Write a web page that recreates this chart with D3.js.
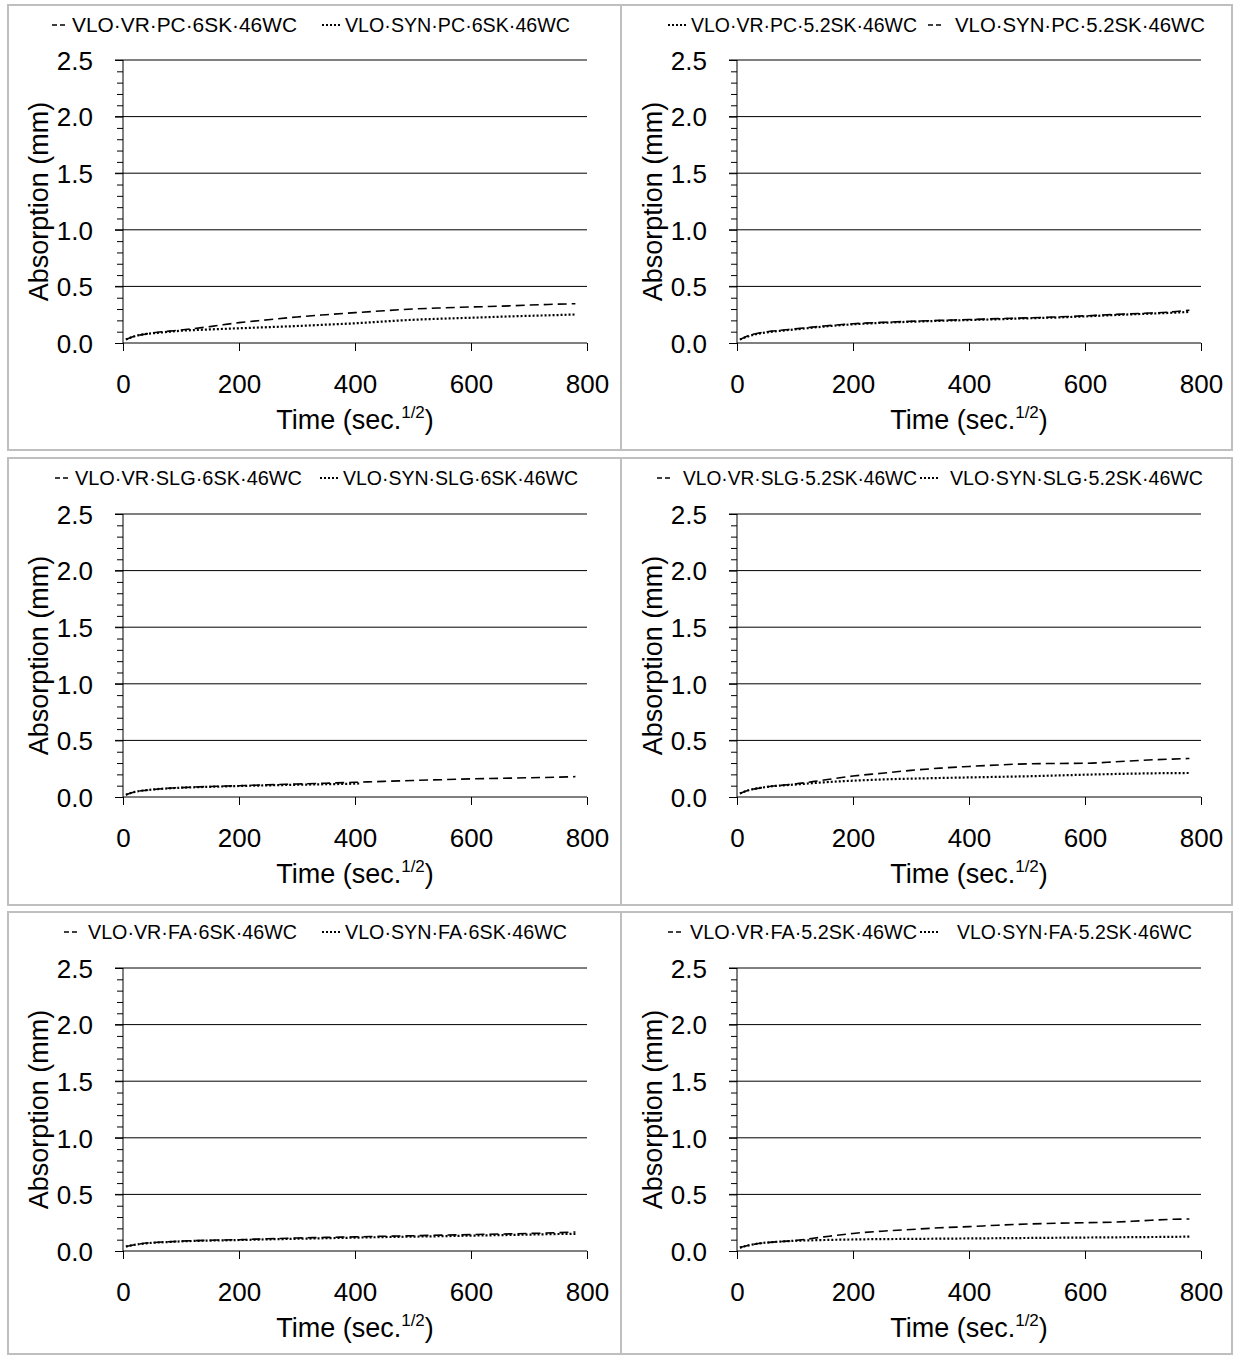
<!DOCTYPE html>
<html>
<head>
<meta charset="utf-8">
<script src="https://cdn.jsdelivr.net/npm/d3@7"></script>
<style>
  body { margin: 0; background: #fff; }
  svg { display: block; font-family: "Liberation Sans", Arial, sans-serif; }
</style>
</head>
<body>
<svg id="chart" width="1233" height="1355"></svg>
<script>
// time in sec^1/2
const times = [5, 20, 40, 60, 80, 100, 150, 200, 250, 300, 350, 400, 450, 500, 550, 600, 650, 700, 750, 780];
const timesShort = [5, 20, 40, 60, 80, 100, 150, 200, 250, 300, 350, 400, 410];

// absorption (mm)
const pc6VR   = [0.03, 0.06, 0.08, 0.095, 0.105, 0.115, 0.145, 0.18, 0.205, 0.23, 0.25, 0.268, 0.285, 0.30, 0.31, 0.318, 0.325, 0.335, 0.343, 0.347];
const pc6SYN  = [0.03, 0.06, 0.08, 0.09, 0.10, 0.108, 0.12, 0.13, 0.14, 0.15, 0.162, 0.174, 0.19, 0.205, 0.215, 0.223, 0.232, 0.24, 0.247, 0.252];
const pc52VR  = [0.03, 0.06, 0.085, 0.10, 0.11, 0.12, 0.145, 0.165, 0.178, 0.188, 0.196, 0.203, 0.21, 0.218, 0.225, 0.235, 0.247, 0.257, 0.267, 0.275];
const pc52SYN = [0.03, 0.065, 0.09, 0.105, 0.115, 0.125, 0.15, 0.17, 0.182, 0.192, 0.2, 0.207, 0.215, 0.222, 0.23, 0.24, 0.252, 0.262, 0.275, 0.29];
const slg6VR  = [0.02, 0.045, 0.06, 0.07, 0.078, 0.083, 0.093, 0.10, 0.108, 0.115, 0.122, 0.13, 0.138, 0.146, 0.153, 0.16, 0.165, 0.17, 0.175, 0.18];
const slg6SYN = [0.02, 0.045, 0.06, 0.07, 0.077, 0.082, 0.09, 0.097, 0.103, 0.108, 0.113, 0.118, 0.12];
const slg52VR  = [0.03, 0.06, 0.08, 0.095, 0.105, 0.115, 0.15, 0.185, 0.21, 0.235, 0.255, 0.27, 0.283, 0.293, 0.296, 0.298, 0.31, 0.325, 0.335, 0.34];
const slg52SYN = [0.03, 0.06, 0.08, 0.095, 0.103, 0.11, 0.13, 0.144, 0.155, 0.162, 0.168, 0.173, 0.178, 0.183, 0.19, 0.197, 0.203, 0.208, 0.211, 0.212];
const fa6VR   = [0.04, 0.055, 0.07, 0.077, 0.082, 0.087, 0.095, 0.10, 0.108, 0.115, 0.12, 0.125, 0.13, 0.135, 0.14, 0.145, 0.15, 0.155, 0.162, 0.168];
const fa6SYN  = [0.04, 0.055, 0.068, 0.075, 0.08, 0.085, 0.092, 0.097, 0.103, 0.108, 0.113, 0.118, 0.123, 0.127, 0.131, 0.136, 0.14, 0.145, 0.15, 0.152];
const fa52VR  = [0.03, 0.05, 0.068, 0.078, 0.085, 0.092, 0.125, 0.155, 0.175, 0.19, 0.205, 0.215, 0.228, 0.238, 0.245, 0.25, 0.255, 0.268, 0.28, 0.283];
const fa52SYN = [0.03, 0.05, 0.068, 0.078, 0.085, 0.09, 0.097, 0.102, 0.105, 0.107, 0.109, 0.111, 0.113, 0.115, 0.117, 0.119, 0.121, 0.123, 0.125, 0.127];

const xTicks = [0, 200, 400, 600, 800];
const yTicks = [0, 0.5, 1.0, 1.5, 2.0, 2.5];

const panels = [
  { col: 0, row: 0, series: [
    { name: "VLO·VR·PC·6SK·46WC", x: times, y: pc6VR, style: "dash" },
    { name: "VLO·SYN·PC·6SK·46WC", x: times, y: pc6SYN, style: "dot" }],
    legend: [[52, 72, 225], [322, 345, 225]] },
  { col: 1, row: 0, series: [
    { name: "VLO·VR·PC·5.2SK·46WC", x: times, y: pc52VR, style: "dot" },
    { name: "VLO·SYN·PC·5.2SK·46WC", x: times, y: pc52SYN, style: "dash" }],
    legend: [[668, 691, 226], [928, 955, 250]] },
  { col: 0, row: 1, series: [
    { name: "VLO·VR·SLG·6SK·46WC", x: times, y: slg6VR, style: "dash" },
    { name: "VLO·SYN·SLG·6SK·46WC", x: timesShort, y: slg6SYN, style: "dot" }],
    legend: [[55, 75, 227], [320, 343, 235]] },
  { col: 1, row: 1, series: [
    { name: "VLO·VR·SLG·5.2SK·46WC", x: times, y: slg52VR, style: "dash" },
    { name: "VLO·SYN·SLG·5.2SK·46WC", x: times, y: slg52SYN, style: "dot" }],
    legend: [[657, 683, 234], [920, 950, 253]] },
  { col: 0, row: 2, series: [
    { name: "VLO·VR·FA·6SK·46WC", x: times, y: fa6VR, style: "dash" },
    { name: "VLO·SYN·FA·6SK·46WC", x: times, y: fa6SYN, style: "dot" }],
    legend: [[64, 88, 209], [322, 345, 222]] },
  { col: 1, row: 2, series: [
    { name: "VLO·VR·FA·5.2SK·46WC", x: times, y: fa52VR, style: "dash" },
    { name: "VLO·SYN·FA·5.2SK·46WC", x: times, y: fa52SYN, style: "dot" }],
    legend: [[668, 690, 227], [920, 957, 235]] }
];

const svg = d3.select("#chart");

const colX = [123, 737];       // x of 0
const plotW = 464;
const rowTop = [60, 514, 968]; // y of 2.5
const plotH = 283;
const boxCol = [[8, 621], [621, 1232]];
const boxRow = [[5, 450], [458, 905], [912, 1354]];

const styles = {
  dash: { dash: "9,5", width: 1.6, legendDash: "5,3", legendLen: 14 },
  dot:  { dash: "2,2", width: 2.2, legendDash: "2,2", legendLen: 20 }
};

panels.forEach(p => {
  // panel frame
  const bx = boxCol[p.col], by = boxRow[p.row];
  svg.append("rect")
    .attr("x", bx[0]).attr("y", by[0])
    .attr("width", bx[1] - bx[0]).attr("height", by[1] - by[0])
    .attr("fill", "none").attr("stroke", "#bfbfbf").attr("stroke-width", 2);

  const x0 = colX[p.col], y0 = rowTop[p.row];
  const x = d3.scaleLinear().domain([0, 800]).range([x0, x0 + plotW]);
  const y = d3.scaleLinear().domain([0, 2.5]).range([y0 + plotH, y0]);

  const g = svg.append("g");

  // gridlines
  g.selectAll("line.grid").data(yTicks.filter(d => d > 0)).enter()
    .append("line")
    .attr("x1", x0 - 8).attr("x2", x0 + plotW)
    .attr("y1", d => y(d)).attr("y2", d => y(d))
    .attr("stroke", "#000").attr("stroke-width", 1);

  // y axis with minor ticks
  const yMinor = d3.range(0, 25).map(i => i / 10).filter(d => Math.round(d * 10) % 5 !== 0);
  g.append("g").attr("transform", `translate(${x0},0)`)
    .call(d3.axisLeft(y).tickValues(yMinor).tickSize(6).tickFormat(""))
    .call(a => a.select(".domain").remove())
    .selectAll("line").attr("stroke-width", 1);
  g.append("g").attr("transform", `translate(${x0},0)`)
    .call(d3.axisLeft(y).tickValues(yTicks).tickSize(8).tickPadding(22).tickFormat(d3.format(".1f")))
    .call(a => a.select(".domain").attr("d", `M0,${y0}V${y0 + plotH}`))
    .call(a => a.selectAll("text").attr("font-size", 26).attr("font-family", "Liberation Sans, Arial").attr("fill", "#000").attr("dy", "0.36em"));

  // x axis
  g.append("g").attr("transform", `translate(0,${y0 + plotH})`)
    .call(d3.axisBottom(x).tickValues(xTicks).tickSize(8).tickPadding(0))
    .call(a => a.select(".domain").attr("d", `M${x0},0H${x0 + plotW}`))
    .call(a => a.selectAll("text").attr("font-size", 26).attr("font-family", "Liberation Sans, Arial")
      .attr("fill", "#000").attr("y", 50).attr("dy", 0));

  // axis titles
  const xt = g.append("text")
    .attr("x", x0 + plotW / 2).attr("y", y0 + plotH + 86)
    .attr("text-anchor", "middle").attr("font-size", 27).attr("fill", "#000");
  xt.append("tspan").text("Time (sec.");
  xt.append("tspan").text("1/2").attr("font-size", 17).attr("dy", -11);
  xt.append("tspan").text(")").attr("dy", 11);

  g.append("text")
    .attr("transform", `translate(${x0 - 75},${y0 + plotH / 2}) rotate(-90)`)
    .attr("text-anchor", "middle").attr("font-size", 27).attr("fill", "#000")
    .text("Absorption (mm)");

  // series
  const line = d3.line().x(d => x(d[0])).y(d => y(d[1])).curve(d3.curveMonotoneX);
  p.series.forEach(s => {
    const st = styles[s.style];
    g.append("path")
      .datum(s.x.map((t, i) => [t, s.y[i]]))
      .attr("d", line)
      .attr("fill", "none").attr("stroke", "#000")
      .attr("stroke-width", st.width).attr("stroke-dasharray", st.dash);
  });

  // legend
  const ly = by[0] + 20;
  p.series.forEach((s, i) => {
    const st = styles[s.style];
    const [sx, tx, tw] = p.legend[i];
    g.append("line")
      .attr("x1", sx).attr("x2", sx + st.legendLen)
      .attr("y1", ly).attr("y2", ly)
      .attr("stroke", "#000").attr("stroke-width", st.width).attr("stroke-dasharray", st.legendDash);
    g.append("text")
      .attr("x", tx).attr("y", ly + 7)
      .attr("font-size", 20).attr("fill", "#000")
      .attr("textLength", tw).attr("lengthAdjust", "spacingAndGlyphs")
      .text(s.name);
  });
});
</script>
</body>
</html>
